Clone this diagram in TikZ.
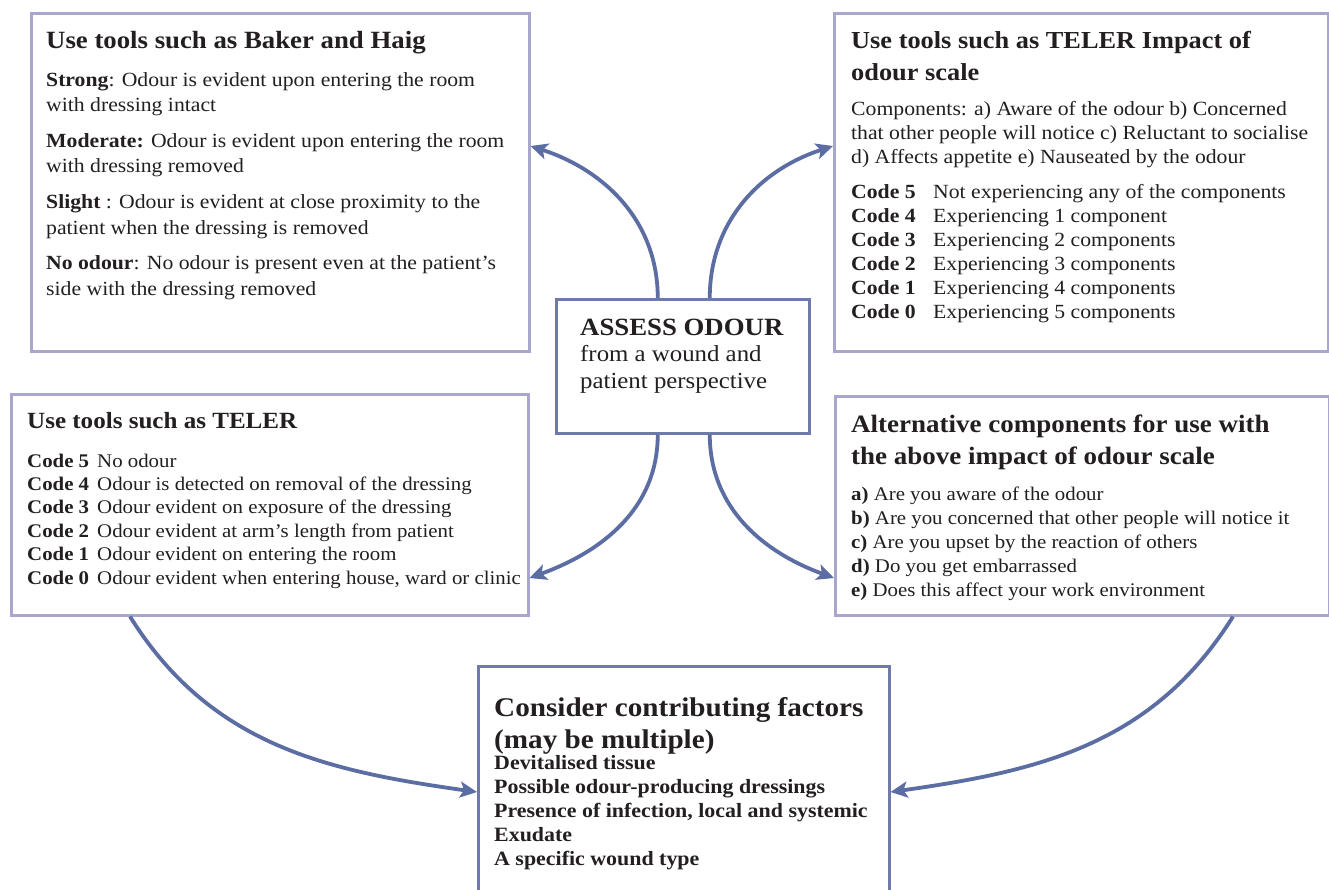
\documentclass[tikz,border=0pt]{standalone}
\usepackage{fontspec}
\setmainfont{Liberation Serif}[FakeStretch=1.08]
\usetikzlibrary{arrows.meta}
\definecolor{lbord}{HTML}{A9A6CD}
\definecolor{dbord}{HTML}{6E7AA9}
\definecolor{arr}{HTML}{5B6DA2}
\definecolor{txt}{HTML}{231F20}
\newcommand{\ttl}[1]{\fontsize{#1}{32}\selectfont\bfseries}
\begin{document}
\begin{tikzpicture}[x=1pt,y=-1pt,
  lbox/.style={draw=lbord, line width=2.5pt, anchor=north west, inner sep=0pt},
  dbox/.style={draw=dbord, line width=2.5pt, anchor=north west, inner sep=0pt},
  txtn/.style={anchor=base west, inner sep=0pt, text=txt, align=left},
  conn/.style={draw=arr, line width=3.8pt, -{Stealth[length=17pt,width=16pt,inset=4pt]}}
]
\useasboundingbox (0,0) rectangle (1329,889);
\fill[white] (0,0) rectangle (1329,889);

% boxes
\node[lbox, minimum width=498pt, minimum height=338pt] (b1) at (30,12) {};
\node[lbox, minimum width=494pt, minimum height=338pt] (b2) at (833,12) {};
\node[dbox, minimum width=253pt, minimum height=134pt] (c) at (555,298) {};
\node[lbox, minimum width=517pt, minimum height=221pt] (b3) at (10,393) {};
\node[lbox, minimum width=494pt, minimum height=219pt] (b4) at (834,395) {};
\node[dbox, minimum width=411pt, minimum height=240pt] (b5) at (477,665) {};

% box 1 text
\node[txtn] (t1) at (46,48) {\ttl{24.8}Use tools such as Baker and Haig};
\node[txtn] (t1b) at (46,86) {\parbox[t]{480pt}{\fontsize{20.1}{25.7}\selectfont
\textbf{Strong}: Odour is evident upon entering the room\\
with dressing intact\\[9.8pt]
\textbf{Moderate:} Odour is evident upon entering the room\\
with dressing removed\\[9.8pt]
\textbf{Slight} : Odour is evident at close proximity to the\\
patient when the dressing is removed\\[9.8pt]
\textbf{No odour}: No odour is present even at the patient’s\\
side with the dressing removed}};

% box 2 text
\node[txtn] (t2) at (851,48) {\parbox[t]{470pt}{\ttl{24.4}Use tools such as TELER Impact of\\ odour scale}};
\node[txtn] (t2b) at (851,115) {\parbox[t]{470pt}{\fontsize{20.1}{24}\selectfont
Components: a) Aware of the odour b) Concerned\\
that other people will notice c) Reluctant to socialise\\
d) Affects appetite e) Nauseated by the odour\\[11pt]
\makebox[82pt][l]{\textbf{Code 5}}Not experiencing any of the components\\
\makebox[82pt][l]{\textbf{Code 4}}Experiencing 1 component\\
\makebox[82pt][l]{\textbf{Code 3}}Experiencing 2 components\\
\makebox[82pt][l]{\textbf{Code 2}}Experiencing 3 components\\
\makebox[82pt][l]{\textbf{Code 1}}Experiencing 4 components\\
\makebox[82pt][l]{\textbf{Code 0}}Experiencing 5 components}};

% centre
\node[txtn] (ct) at (580,335) {\parbox[t]{225pt}{\fontsize{23}{26.5}\selectfont
{\fontsize{24.8}{26.5}\selectfont\bfseries ASSESS ODOUR}\\ from a wound and\\ patient perspective}};

% box 3 text
\node[txtn] (t3) at (27,428) {\ttl{23.2}Use tools such as TELER};
\node[txtn] (t3b) at (27,467) {\parbox[t]{500pt}{\fontsize{19.3}{23.4}\selectfont
\makebox[70pt][l]{\textbf{Code 5}}No odour\\
\makebox[70pt][l]{\textbf{Code 4}}Odour is detected on removal of the dressing\\
\makebox[70pt][l]{\textbf{Code 3}}Odour evident on exposure of the dressing\\
\makebox[70pt][l]{\textbf{Code 2}}Odour evident at arm’s length from patient\\
\makebox[70pt][l]{\textbf{Code 1}}Odour evident on entering the room\\
\makebox[70pt][l]{\textbf{Code 0}}Odour evident when entering house, ward or clinic}};

% box 4 text
\node[txtn] (t4) at (851,432) {\parbox[t]{470pt}{\ttl{25}Alternative components for use with\\ the above impact of odour scale}};
\node[txtn] (t4b) at (851,500) {\parbox[t]{470pt}{\fontsize{19.3}{24}\selectfont
\textbf{a)} Are you aware of the odour\\
\textbf{b)} Are you concerned that other people will notice it\\
\textbf{c)} Are you upset by the reaction of others\\
\textbf{d)} Do you get embarrassed\\
\textbf{e)} Does this affect your work environment}};

% box 5 text
\node[txtn] (t5) at (494,716) {\parbox[t]{390pt}{\ttl{27}Consider contributing factors\\ (may be multiple)}};
\node[txtn] (t5b) at (494,769) {\parbox[t]{390pt}{\fontsize{20.3}{24}\selectfont\bfseries
Devitalised tissue\\
Possible odour-producing dressings\\
Presence of infection, local and systemic\\
Exudate\\
A specific wound type}};

% connectors
\draw[conn] ([xshift=-25pt]c.north) to[out=90,in=-18] ([yshift=-134pt]b1.north east);
\draw[conn] ([xshift=27pt]c.north) to[out=90,in=198] ([yshift=-134pt]b2.north west);
\draw[conn] ([xshift=-25pt]c.south) to[out=-90,in=20] ([yshift=-185pt]b3.north east);
\draw[conn] ([xshift=27pt]c.south) to[out=-90,in=160] ([yshift=-183pt]b4.north west);
\draw[conn] ([xshift=120pt]b3.south west) to[out=-58,in=172] ([yshift=-127pt]b5.north west);
\draw[conn] ([xshift=399pt]b4.south west) to[out=-122,in=8] ([yshift=-127pt]b5.north east);
\end{tikzpicture}
\end{document}
